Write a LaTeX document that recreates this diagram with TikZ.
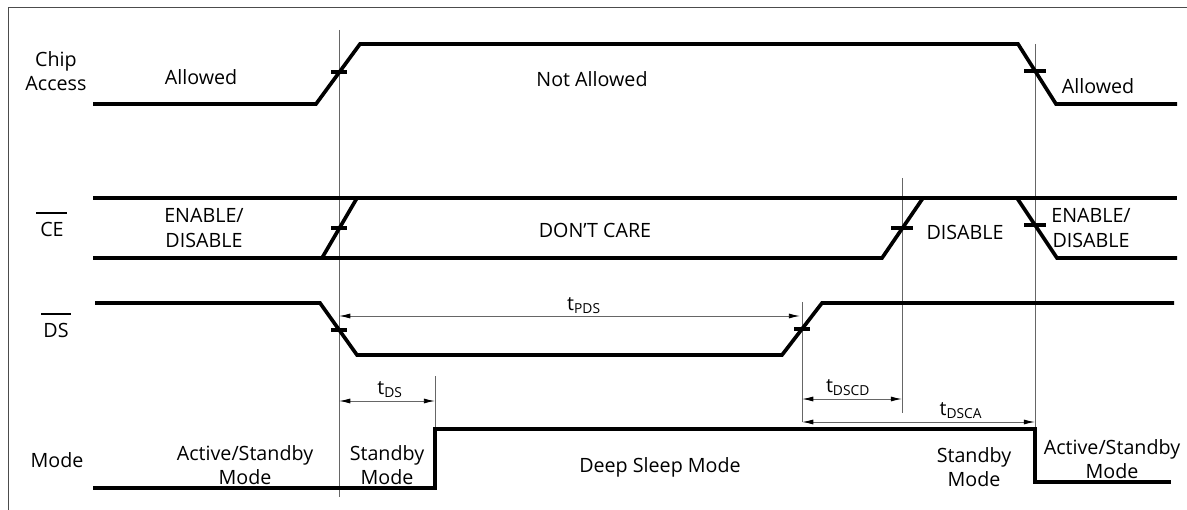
\documentclass[tikz,border=0pt]{standalone}
\usepackage{fontspec}
\setmainfont{Open Sans}
\usetikzlibrary{arrows.meta}

\begin{document}
\begin{tikzpicture}[x=0.025cm, y=-0.025cm,
    sig/.style={line width=2.6pt, line join=miter},
    guide/.style={line width=0.6pt, black!60},
    tickmark/.style={line width=2.3pt},
    dim/.style={line width=0.7pt, black!60,
      {Latex[length=8pt,width=3.6pt,black]}-{Latex[length=8pt,width=3.6pt,black]}},
    lbl/.style={font=\fontsize{14}{17.5}\selectfont, align=center, inner sep=0pt},
    bar/.style={line width=2pt}]

    \useasboundingbox (0,0) rectangle (1187,510);
    \draw[black!70, line width=0.7pt] (8,510) -- (8,7) -- (1187,7);

    % timing guides
    \draw[guide] (339,30) -- (339,497);
    \draw[guide] (1035,44) -- (1035,428);
    \draw[guide] (902,178) -- (902,413);
    \draw[guide] (802,302) -- (802,422);
    \draw[guide] (435,376) -- (435,429);

    % chip access
    \draw[sig] (93,104) -- (316,104) -- (360,44) -- (1018,44)
      -- (1056,104) -- (1177,104);
    \node[lbl] (chip) at (56,71) {Chip\\Access};
    \node[lbl] (allowA) at (201,77) {Allowed};
    \node[lbl] (notAllow) at (592,79) {Not Allowed};
    \node[lbl] (allowB) at (1098,86) {Allowed};

    % CE
    \draw[sig] (93,198) -- (1177,198);
    \draw[sig] (93,258) -- (882,258) -- (923,198);
    \draw[sig] (322,258) -- (357,198);
    \draw[sig] (1017,198) -- (1057,258) -- (1177,258);
    \node[lbl] (ce) at (52,229) {CE};
    \draw[bar] (36,213) -- (67,213);
    \node[lbl] (ceA) at (204,228) {ENABLE/\\DISABLE};
    \node[lbl] (ceB) at (595,230) {DON’T CARE};
    \node[lbl] (ceC) at (965,232) {DISABLE};
    \node[lbl] (ceD) at (1091,228) {ENABLE/\\DISABLE};

    % DS
    \draw[sig] (95,303) -- (320,303) -- (357,355) -- (782,355)
      -- (822,303) -- (1174,303);
    \node[lbl] (ds) at (56,330) {DS};
    \draw[bar] (41,314) -- (71,314);

    % mode
    \draw[sig] (93,488) -- (435,488) -- (435,429) -- (1035,429)
      -- (1035,482) -- (1171,482);
    \node[lbl] (mode) at (57,460) {Mode};
    \node[lbl] (modeA) at (245,465) {Active/Standby\\Mode};
    \node[lbl] (modeB) at (387,465) {Standby\\Mode};
    \node[lbl] (modeC) at (660,467) {Deep Sleep Mode};
    \node[lbl] (modeD) at (974,467) {Standby\\Mode};
    \node[lbl] (modeE) at (1112,459) {Active/Standby\\Mode};

    % crossing ticks
    \foreach \x/\y in {339/72, 339/228, 339/330, 802/329}
      \draw[tickmark] (\x-8,\y) -- (\x+8,\y);
    \foreach \x/\y in {1035/71, 902/228, 1035/225}
      \draw[tickmark] (\x-11,\y) -- (\x+11,\y);

    % timing arrows
    \coordinate (pdsL) at (339,316);
    \coordinate (pdsR) at (800,316);
    \coordinate (tdsL) at (339,401);
    \coordinate (tdsR) at (435,401);
    \coordinate (cdL) at (802,399);
    \coordinate (cdR) at (902,399);
    \coordinate (caL) at (802,422);
    \coordinate (caR) at (1035,422);
    \draw[dim] (pdsL) -- (pdsR);
    \draw[dim] (tdsL) -- (tdsR);
    \draw[dim] (cdL) -- (cdR);
    \draw[dim] (caL) -- (caR);
    \node[lbl] (tpds) at (584,306) {t\textsubscript{PDS}};
    \node[lbl] (tds) at (390,390) {t\textsubscript{DS}};
    \node[lbl] (tdscd) at (848,388) {t\textsubscript{DSCD}};
    \node[lbl] (tdsca) at (961,411) {t\textsubscript{DSCA}};

\end{tikzpicture}
\end{document}
